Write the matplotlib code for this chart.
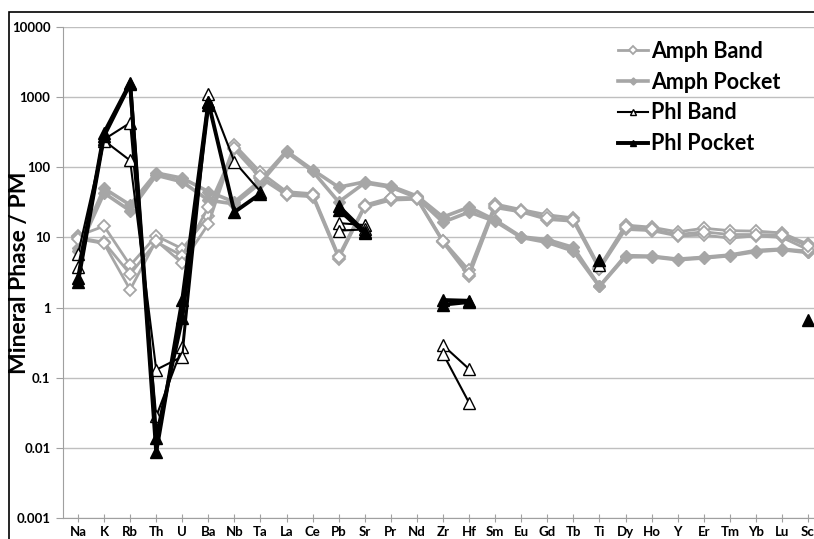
import numpy as np
import matplotlib.pyplot as plt
from matplotlib.patches import Rectangle

plt.rcParams['font.family'] = ['Lato', 'DejaVu Sans']
plt.rcParams['font.weight'] = 'bold'

nan = np.nan

elements = ["Na", "K", "Rb", "Th", "U", "Ba", "Nb", "Ta", "La", "Ce", "Pb", "Sr", "Pr", "Nd",
            "Zr", "Hf", "Sm", "Eu", "Gd", "Tb", "Ti", "Dy", "Ho", "Y", "Er", "Tm", "Yb", "Lu", "Sc"]

# amphibole in the band (open diamonds)
amph_band_1 = [10.5, 14.5, 4.0, 10.5, 6.9, 20, 210, 85, 45, 42, 5.5, 29, 37, 37,
               9.0, 3.4, 30, 25, 21, 19, 3.8, 15, 14, 12, 13.5, 12.5, 12.3, 11.6, 8.0]
amph_band_2 = [10.0, 8.5, 3.0, 8.6, 5.5, 27, 180, 70, 40, 38, 5.0, 27, 34, 35,
               8.5, 2.8, 26.5, 23, 18, 17, 3.5, 13, 12.5, 10.5, 10.8, 9.8, 10.5, 10.0, 6.7]
amph_band_3 = [9.5, 8.2, 1.8, 9.0, 4.3, 15.5, 190, 75, 42, 40, 5.2, 28, 36, 36,
               8.8, 3.0, 28, 24, 19, 18, 3.6, 14, 13, 11, 12, 11, 11, 10.8, 7.5]

# amphibole in the pocket (filled diamonds)
amph_pocket_1 = [7.0, 50, 29, 83, 70, 45, 32, 65, 170, 92, 52, 62, 54, 39,
                 19.5, 27, 17.7, 10.2, 9.3, 7.2, 2.0, 5.5, 5.4, 4.9, 5.2, 5.6, 6.5, 6.8, 6.3]
amph_pocket_2 = [6.5, 43, 24, 77, 62, 34, 30, 60, 165, 88, 32, 60, 52, 37,
                 16.5, 23, 17.0, 10.0, 8.5, 6.4, 2.0, 5.3, 5.3, 4.8, 5.1, 5.5, 6.3, 6.7, 6.1]

# phlogopite in the band (open triangles)
phl_band_1 = [5.8, 250, 430, 0.028, 0.27, 1100, 120, 45, nan, nan, 16, 15, nan, nan,
              0.29, 0.133, nan, nan, nan, nan, 4.0, nan, nan, nan, nan, nan, nan, nan, nan]
phl_band_2 = [3.8, 240, 125, 0.13, 0.20, 850, nan, nan, nan, nan, 12.5, 13, nan, nan,
              0.22, 0.044, nan, nan, nan, nan, nan, nan, nan, nan, nan, nan, nan, nan, nan]

# phlogopite in the pocket (filled triangles)
phl_pocket_1 = [2.6, 310, 1600, 0.0087, 1.3, 850, 23, 42, nan, nan, 28, 12, nan, nan,
                1.28, 1.25, nan, nan, nan, nan, 4.8, nan, nan, nan, nan, nan, nan, nan, 0.66]
phl_pocket_2 = [2.3, 280, 1550, 0.014, 0.7, 780, nan, nan, nan, nan, 25, 11.5, nan, nan,
                1.1, 1.2, nan, nan, nan, nan, nan, nan, nan, nan, nan, nan, nan, nan, nan]

gray = "#A6A6A6"
x = np.arange(len(elements))

fig = plt.figure(figsize=(8.14, 5.39), dpi=100)
ax = fig.add_axes([63 / 814, 21 / 539, 1 - 63 / 814, 491 / 539])

amph_band = [amph_band_1, amph_band_2, amph_band_3]
amph_pocket = [amph_pocket_1, amph_pocket_2]
phl_band = [phl_band_1, phl_band_2]
phl_pocket = [phl_pocket_1, phl_pocket_2]

for i, s in enumerate(amph_pocket):
    ax.plot(x, s, color=gray, lw=2.6, marker="D", ms=6, mfc=gray, mec=gray,
            label="Amph Pocket" if i == 0 else "_nolegend_", zorder=3)
for i, s in enumerate(amph_band):
    ax.plot(x, s, color=gray, lw=2.0, marker="D", ms=6.5, mfc="white", mec=gray, mew=1.3,
            label="Amph Band" if i == 0 else "_nolegend_", zorder=4)
for i, s in enumerate(phl_band):
    ax.plot(x, s, color="black", lw=1.5, marker="^", ms=8, mfc="white", mec="black", mew=1.0,
            label="Phl Band" if i == 0 else "_nolegend_", zorder=5)
for i, s in enumerate(phl_pocket):
    ax.plot(x, s, color="black", lw=2.8, marker="^", ms=8, mfc="black", mec="black",
            label="Phl Pocket" if i == 0 else "_nolegend_", zorder=6)

ax.set_yscale("log")
ax.set_ylim(0.001, 10000)
ax.set_xlim(-0.575, 28.23)
ax.set_yticks([0.001, 0.01, 0.1, 1, 10, 100, 1000, 10000])
ax.set_yticklabels(["0.001", "0.01", "0.1", "1", "10", "100", "1000", "10000"])
ax.minorticks_off()
ax.set_xticks(x)
ax.set_xticklabels(elements)
ax.tick_params(axis="y", labelsize=9.5, length=5, color="#A0A0A0", pad=4)
ax.tick_params(axis="x", labelsize=9.5, length=6, direction="inout", color="#A0A0A0", pad=3)
ax.yaxis.grid(True, color="#BFBFBF", lw=1.0)
ax.set_axisbelow(True)
for side in ["top", "right"]:
    ax.spines[side].set_visible(False)
for side in ["left", "bottom"]:
    ax.spines[side].set_color("#A0A0A0")
ax.set_ylabel("Mineral Phase / PM", fontsize=16.5, fontweight="bold")
ax.yaxis.set_label_coords(-0.044, 0.5)

handles, labels = ax.get_legend_handles_labels()
order = [labels.index(n) for n in ["Amph Band", "Amph Pocket", "Phl Band", "Phl Pocket"]]
ax.legend([handles[i] for i in order], [labels[i] for i in order],
          loc="upper left", bbox_to_anchor=(618 / 814, 1 - 41 / 539), bbox_transform=fig.transFigure,
          frameon=False, handlelength=1.4, handletextpad=0.15, labelspacing=0.45,
          borderpad=0, borderaxespad=0, markerscale=0.6, prop={"weight": "bold", "size": 15.5})

fig.patches.append(Rectangle((9 / 814, -0.1), 2, 1.1 - 12 / 539, transform=fig.transFigure,
                             fill=False, edgecolor="black", lw=1.2))

fig.savefig("out.png", dpi=100)
